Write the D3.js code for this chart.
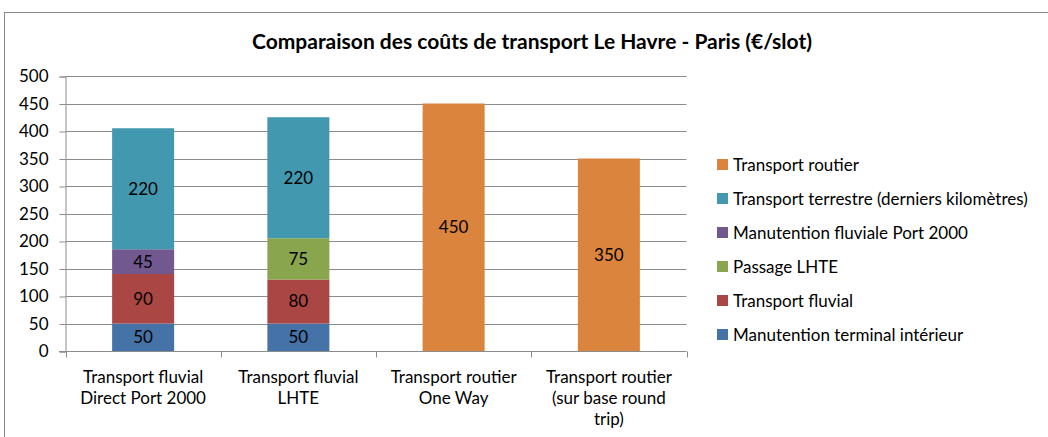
<!DOCTYPE html>
<html>
<head>
<meta charset="utf-8">
<script src="https://cdn.jsdelivr.net/npm/d3@7"></script>
<style>
  body { margin: 0; background: #fff; }
  text { font-family: Lato, "Open Sans", sans-serif; fill: #000; }
</style>
</head>
<body>
<svg id="chart"></svg>
<script>
// Categories (one entry per line)
const categories = [
    ['Transport fluvial', 'Direct Port 2000'],
    ['Transport fluvial', 'LHTE'],
    ['Transport routier', 'One Way'],
    ['Transport routier', '(sur base round', 'trip)']
];

// Series, stacked bottom to top
const seriesNames = [
    'Manutention terminal intérieur',
    'Transport fluvial',
    'Passage LHTE',
    'Manutention fluviale  Port 2000',
    'Transport terrestre (derniers kilomètres)',
    'Transport routier'
];
const manutentionTerminal = [50, 50, 0, 0];
const transportFluvial = [90, 80, 0, 0];
const passageLHTE = [0, 75, 0, 0];
const manutentionPort2000 = [45, 0, 0, 0];
const transportTerrestre = [220, 220, 0, 0];
const transportRoutier = [0, 0, 450, 350];

const yTicks = [0, 50, 100, 150, 200, 250, 300, 350, 400, 450, 500];

document.addEventListener('DOMContentLoaded', () => {
    const width = 1048;
    const height = 437;
    const colors = ['#4572A7', '#AA4643', '#89A54E', '#71588F', '#4198AF', '#DB843D'];
    const values = [manutentionTerminal, transportFluvial, passageLHTE,
        manutentionPort2000, transportTerrestre, transportRoutier];

    const svg = d3.select('#chart')
        .attr('width', width)
        .attr('height', height);

    // outer frame
    svg.append('rect')
        .attr('x', 4.5).attr('y', 12.5)
        .attr('width', 1060).attr('height', 440)
        .attr('fill', 'none')
        .attr('stroke', '#8a8a8a');

    svg.append('text')
        .attr('x', 532)
        .attr('y', 49)
        .attr('text-anchor', 'middle')
        .attr('font-size', 21)
        .attr('font-weight', 'bold')
        .text('Comparaison des coûts de transport Le Havre - Paris (€/slot)');

    // table for stacking
    const table = categories.map((c, i) => {
        const row = { idx: i };
        seriesNames.forEach((s, j) => { row[s] = values[j][i]; });
        return row;
    });
    const stacked = d3.stack().keys(seriesNames)(table);

    const x = d3.scaleBand()
        .domain(d3.range(categories.length))
        .range([65.5, 686.5])
        .paddingInner(0)
        .paddingOuter(0);

    const y = d3.scaleLinear()
        .domain([0, 500])
        .range([351, 76]);

    // gridlines
    svg.append('g')
        .selectAll('line')
        .data(yTicks.slice(1))
        .enter()
        .append('line')
        .attr('x1', 65.5).attr('x2', 686.5)
        .attr('y1', d => Math.round(y(d)) + 0.5)
        .attr('y2', d => Math.round(y(d)) + 0.5)
        .attr('stroke', '#8c8c8c')
        .attr('stroke-width', 1.2);

    // y axis
    const yAxis = svg.append('g')
        .attr('transform', 'translate(65.5,0.5)')
        .call(d3.axisLeft(y).tickValues(yTicks).tickSize(6).tickPadding(11));
    yAxis.select('.domain').attr('stroke', '#8c8c8c');
    yAxis.selectAll('.tick line').attr('stroke', '#8c8c8c');
    yAxis.selectAll('.tick text')
        .attr('font-size', 17)
        .attr('font-family', 'Lato, "Open Sans", sans-serif')
        .attr('fill', '#000');

    // x axis line and ticks
    const xAxis = svg.append('g')
        .attr('transform', 'translate(0,351.5)');
    xAxis.append('line')
        .attr('x1', 59).attr('x2', 686.5)
        .attr('stroke', '#8c8c8c');
    xAxis.selectAll('.tk')
        .data(d3.range(categories.length + 1))
        .enter()
        .append('line')
        .attr('class', 'tk')
        .attr('x1', d => Math.round(65.5 + d * x.bandwidth()) + 0.5)
        .attr('x2', d => Math.round(65.5 + d * x.bandwidth()) + 0.5)
        .attr('y1', 0).attr('y2', 6)
        .attr('stroke', '#8c8c8c');

    // category labels
    const catGroup = svg.append('g')
        .selectAll('text')
        .data(categories)
        .enter()
        .append('text')
        .attr('text-anchor', 'middle')
        .attr('font-size', 17);
    catGroup.selectAll('tspan')
        .data((d, i) => d.map(line => ({ line, i })))
        .enter()
        .append('tspan')
        .attr('x', d => x(d.i) + x.bandwidth() / 2)
        .attr('y', (d, k) => 383 + k * 21)
        .text(d => d.line);

    // bars
    const barW = 62;
    const layers = svg.append('g')
        .selectAll('g')
        .data(stacked)
        .enter()
        .append('g')
        .attr('fill', (d, i) => colors[i]);

    layers.selectAll('rect')
        .data(d => d.filter(s => s[1] - s[0] > 0))
        .enter()
        .append('rect')
        .attr('x', d => x(d.data.idx) + (x.bandwidth() - barW) / 2)
        .attr('y', d => y(d[1]))
        .attr('width', barW)
        .attr('height', d => y(d[0]) - y(d[1]));

    // data labels
    layers.selectAll('text')
        .data(d => d.filter(s => s[1] - s[0] > 0))
        .enter()
        .append('text')
        .attr('x', d => x(d.data.idx) + x.bandwidth() / 2)
        .attr('y', d => (y(d[0]) + y(d[1])) / 2)
        .attr('dy', '.35em')
        .attr('text-anchor', 'middle')
        .attr('font-size', 17)
        .text(d => d[1] - d[0]);

    // legend, reversed order
    const legend = svg.append('g')
        .selectAll('g')
        .data(seriesNames.map((s, i) => ({ s, c: colors[i] })).reverse())
        .enter()
        .append('g')
        .attr('transform', (d, i) => `translate(717, ${165 + i * 34})`);
    legend.append('rect')
        .attr('x', 0).attr('y', -6)
        .attr('width', 11).attr('height', 11)
        .attr('fill', d => d.c);
    legend.append('text')
        .attr('x', 16)
        .attr('y', 0)
        .attr('dy', '.35em')
        .attr('font-size', 17)
        .text(d => d.s);
});
</script>
</body>
</html>
